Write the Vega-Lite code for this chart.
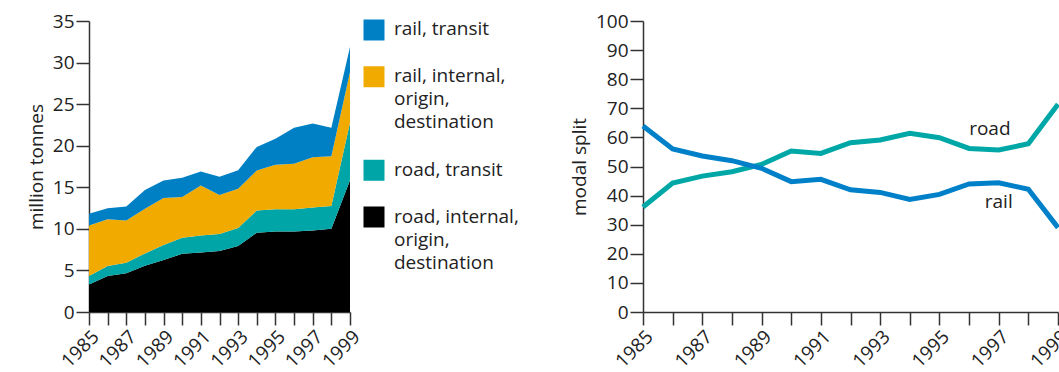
{
  "$schema": "https://vega.github.io/schema/vega-lite/v6.json",
  "padding": {"left": 27, "top": 12, "right": 0, "bottom": 0},
  "config": {
    "font": "Open Sans",
    "view": {"stroke": null},
    "axis": {
      "labelFontSize": 19, "titleFontSize": 19, "titleFontWeight": "normal",
      "labelColor": "#222", "titleColor": "#222",
      "domainColor": "#333", "tickColor": "#333",
      "tickSize": 13, "grid": false, "domainWidth": 1.5, "tickWidth": 1.5
    }
  },
  "bounds": "flush",
  "spacing": 24,
  "resolve": {"scale": {"color": "independent"}},
  "datasets": {
    "freight": [
      {"year": 1985, "series": "road, internal, origin, destination", "value": 3.32},
      {"year": 1986, "series": "road, internal, origin, destination", "value": 4.33},
      {"year": 1987, "series": "road, internal, origin, destination", "value": 4.65},
      {"year": 1988, "series": "road, internal, origin, destination", "value": 5.57},
      {"year": 1989, "series": "road, internal, origin, destination", "value": 6.25},
      {"year": 1990, "series": "road, internal, origin, destination", "value": 7.00},
      {"year": 1991, "series": "road, internal, origin, destination", "value": 7.17},
      {"year": 1992, "series": "road, internal, origin, destination", "value": 7.33},
      {"year": 1993, "series": "road, internal, origin, destination", "value": 7.93},
      {"year": 1994, "series": "road, internal, origin, destination", "value": 9.53},
      {"year": 1995, "series": "road, internal, origin, destination", "value": 9.69},
      {"year": 1996, "series": "road, internal, origin, destination", "value": 9.69},
      {"year": 1997, "series": "road, internal, origin, destination", "value": 9.81},
      {"year": 1998, "series": "road, internal, origin, destination", "value": 10.01},
      {"year": 1999, "series": "road, internal, origin, destination", "value": 15.86},
      {"year": 1985, "series": "road, transit", "value": 1.01},
      {"year": 1986, "series": "road, transit", "value": 1.20},
      {"year": 1987, "series": "road, transit", "value": 1.28},
      {"year": 1988, "series": "road, transit", "value": 1.48},
      {"year": 1989, "series": "road, transit", "value": 1.80},
      {"year": 1990, "series": "road, transit", "value": 1.93},
      {"year": 1991, "series": "road, transit", "value": 2.04},
      {"year": 1992, "series": "road, transit", "value": 2.04},
      {"year": 1993, "series": "road, transit", "value": 2.16},
      {"year": 1994, "series": "road, transit", "value": 2.68},
      {"year": 1995, "series": "road, transit", "value": 2.68},
      {"year": 1996, "series": "road, transit", "value": 2.68},
      {"year": 1997, "series": "road, transit", "value": 2.76},
      {"year": 1998, "series": "road, transit", "value": 2.73},
      {"year": 1999, "series": "road, transit", "value": 6.89},
      {"year": 1985, "series": "rail, internal, origin, destination", "value": 6.08},
      {"year": 1986, "series": "rail, internal, origin, destination", "value": 5.64},
      {"year": 1987, "series": "rail, internal, origin, destination", "value": 5.08},
      {"year": 1988, "series": "rail, internal, origin, destination", "value": 5.36},
      {"year": 1989, "series": "rail, internal, origin, destination", "value": 5.65},
      {"year": 1990, "series": "rail, internal, origin, destination", "value": 4.89},
      {"year": 1991, "series": "rail, internal, origin, destination", "value": 6.01},
      {"year": 1992, "series": "rail, internal, origin, destination", "value": 4.69},
      {"year": 1993, "series": "rail, internal, origin, destination", "value": 4.73},
      {"year": 1994, "series": "rail, internal, origin, destination", "value": 4.81},
      {"year": 1995, "series": "rail, internal, origin, destination", "value": 5.33},
      {"year": 1996, "series": "rail, internal, origin, destination", "value": 5.45},
      {"year": 1997, "series": "rail, internal, origin, destination", "value": 6.05},
      {"year": 1998, "series": "rail, internal, origin, destination", "value": 6.00},
      {"year": 1999, "series": "rail, internal, origin, destination", "value": 6.12},
      {"year": 1985, "series": "rail, transit", "value": 1.40},
      {"year": 1986, "series": "rail, transit", "value": 1.32},
      {"year": 1987, "series": "rail, transit", "value": 1.69},
      {"year": 1988, "series": "rail, transit", "value": 2.25},
      {"year": 1989, "series": "rail, transit", "value": 2.12},
      {"year": 1990, "series": "rail, transit", "value": 2.32},
      {"year": 1991, "series": "rail, transit", "value": 1.68},
      {"year": 1992, "series": "rail, transit", "value": 2.20},
      {"year": 1993, "series": "rail, transit", "value": 2.24},
      {"year": 1994, "series": "rail, transit", "value": 2.84},
      {"year": 1995, "series": "rail, transit", "value": 3.13},
      {"year": 1996, "series": "rail, transit", "value": 4.33},
      {"year": 1997, "series": "rail, transit", "value": 4.05},
      {"year": 1998, "series": "rail, transit", "value": 3.41},
      {"year": 1999, "series": "rail, transit", "value": 3.01}
    ],
    "legend": [
      {"series": "rail, transit", "label": "rail, transit"},
      {"series": "rail, internal, origin, destination", "label": "rail, internal,\norigin,\ndestination"},
      {"series": "road, transit", "label": "road, transit"},
      {"series": "road, internal, origin, destination", "label": "road, internal,\norigin,\ndestination"}
    ],
    "split": [
      {"year": 1985, "mode": "road", "share": 36.1},
      {"year": 1986, "mode": "road", "share": 44.3},
      {"year": 1987, "mode": "road", "share": 46.7},
      {"year": 1988, "mode": "road", "share": 48.2},
      {"year": 1989, "mode": "road", "share": 50.7},
      {"year": 1990, "mode": "road", "share": 55.3},
      {"year": 1991, "mode": "road", "share": 54.5},
      {"year": 1992, "mode": "road", "share": 58.2},
      {"year": 1993, "mode": "road", "share": 59.1},
      {"year": 1994, "mode": "road", "share": 61.4},
      {"year": 1995, "mode": "road", "share": 59.9},
      {"year": 1996, "mode": "road", "share": 56.2},
      {"year": 1997, "mode": "road", "share": 55.7},
      {"year": 1998, "mode": "road", "share": 57.8},
      {"year": 1999, "mode": "road", "share": 71.4},
      {"year": 1985, "mode": "rail", "share": 63.9},
      {"year": 1986, "mode": "rail", "share": 56.0},
      {"year": 1987, "mode": "rail", "share": 53.6},
      {"year": 1988, "mode": "rail", "share": 52.0},
      {"year": 1989, "mode": "rail", "share": 49.4},
      {"year": 1990, "mode": "rail", "share": 44.8},
      {"year": 1991, "mode": "rail", "share": 45.6},
      {"year": 1992, "mode": "rail", "share": 42.0},
      {"year": 1993, "mode": "rail", "share": 41.1},
      {"year": 1994, "mode": "rail", "share": 38.7},
      {"year": 1995, "mode": "rail", "share": 40.4},
      {"year": 1996, "mode": "rail", "share": 44.0},
      {"year": 1997, "mode": "rail", "share": 44.4},
      {"year": 1998, "mode": "rail", "share": 42.2},
      {"year": 1999, "mode": "rail", "share": 29.0}
    ],
    "splitlabels": [
      {"year": 1996.7, "share": 63, "label": "road"},
      {"year": 1997.0, "share": 37.8, "label": "rail"}
    ]
  },
  "hconcat": [
    {
      "width": 261,
      "height": 291,
      "data": {"name": "freight"},
      "transform": [
        {"calculate": "indexof(['road, internal, origin, destination', 'road, transit', 'rail, internal, origin, destination', 'rail, transit'], datum.series)", "as": "ord"}
      ],
      "mark": {"type": "area"},
      "encoding": {
        "x": {
          "field": "year", "type": "quantitative",
          "scale": {"domain": [1985, 1999], "nice": false, "zero": false},
          "axis": {
            "title": null, "format": "d",
            "values": [1985, 1986, 1987, 1988, 1989, 1990, 1991, 1992, 1993, 1994, 1995, 1996, 1997, 1998, 1999],
            "labelExpr": "datum.value % 2 == 1 ? datum.label : ''",
            "labelAngle": -45, "labelAlign": "right", "labelBaseline": "top", "labelPadding": 2,
            "labelOverlap": false, "labelBound": false
          }
        },
        "y": {
          "field": "value", "type": "quantitative", "stack": "zero",
          "scale": {"domain": [0, 35], "nice": false},
          "axis": {"title": "million tonnes", "values": [0, 5, 10, 15, 20, 25, 30, 35], "titlePadding": 6}
        },
        "color": {
          "field": "series", "type": "nominal",
          "scale": {
            "domain": ["rail, transit", "rail, internal, origin, destination", "road, transit", "road, internal, origin, destination"],
            "range": ["#0080C4", "#F0AA00", "#00A5A8", "#000000"]
          },
          "legend": null
        },
        "order": {"field": "ord", "type": "quantitative"}
      }
    },
    {
      "width": 245,
      "height": 205,
      "data": {"name": "legend"},
      "encoding": {
        "x": {"datum": 0, "type": "quantitative", "scale": {"domain": [0, 1]}, "axis": null},
        "y": {
          "field": "series", "type": "nominal",
          "scale": {
            "type": "point", "padding": 0.1925,
            "domain": ["rail, transit", "rail, internal, origin, destination", "", "road, transit", "road, internal, origin, destination"]
          },
          "axis": null
        }
      },
      "layer": [
        {
          "mark": {"type": "point", "shape": "square", "filled": true, "size": 441, "opacity": 1},
          "encoding": {
            "color": {
              "field": "series", "type": "nominal",
              "scale": {
                "domain": ["rail, transit", "rail, internal, origin, destination", "road, transit", "road, internal, origin, destination"],
                "range": ["#0080C4", "#F0AA00", "#00A5A8", "#000000"]
              },
              "legend": null
            }
          }
        },
        {
          "mark": {"type": "text", "align": "left", "baseline": "line-top", "dx": 20, "dy": -11.5, "lineHeight": 23, "fontSize": 19, "lineBreak": "\n", "color": "#222"},
          "encoding": {"text": {"field": "label"}}
        }
      ]
    },
    {
      "width": 415,
      "height": 291,
      "encoding": {
        "x": {
          "field": "year", "type": "quantitative",
          "scale": {"domain": [1985, 1999], "nice": false, "zero": false},
          "axis": {
            "title": null, "format": "d",
            "values": [1985, 1986, 1987, 1988, 1989, 1990, 1991, 1992, 1993, 1994, 1995, 1996, 1997, 1998, 1999],
            "labelExpr": "datum.value % 2 == 1 ? datum.label : ''",
            "labelAngle": -45, "labelAlign": "right", "labelBaseline": "top", "labelPadding": 2,
            "labelOverlap": false, "labelBound": false
          }
        },
        "y": {
          "field": "share", "type": "quantitative",
          "scale": {"domain": [0, 100], "nice": false},
          "axis": {"title": "modal split", "values": [0, 10, 20, 30, 40, 50, 60, 70, 80, 90, 100], "titlePadding": 6}
        }
      },
      "layer": [
        {
          "data": {"name": "split"},
          "mark": {"type": "line", "strokeWidth": 5},
          "encoding": {
            "color": {
              "field": "mode", "type": "nominal",
              "scale": {"domain": ["road", "rail"], "range": ["#00A7A7", "#0080C8"]},
              "legend": null
            }
          }
        },
        {
          "data": {"name": "splitlabels"},
          "mark": {"type": "text", "fontSize": 19, "color": "#222"},
          "encoding": {"text": {"field": "label"}}
        }
      ]
    }
  ]
}
